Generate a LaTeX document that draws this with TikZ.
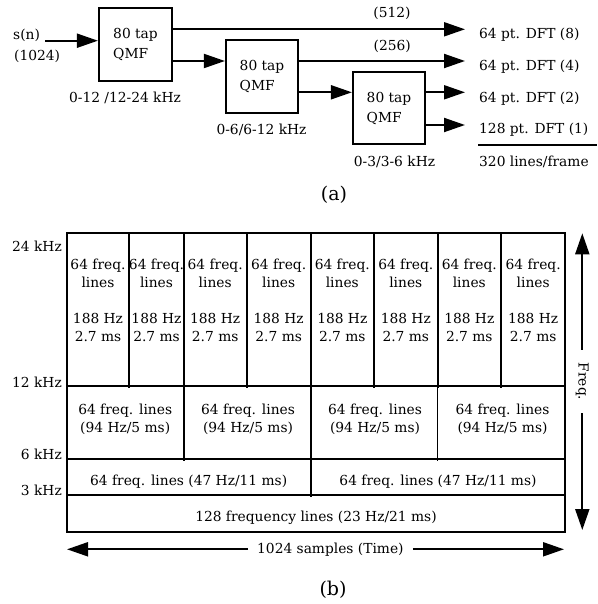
\documentclass[tikz,border=0pt]{standalone}
\usepackage{fontspec}
\setmainfont{DejaVu Serif}
\usetikzlibrary{positioning, arrows.meta}

\begin{document}
\begin{tikzpicture}[
  x=1pt, y=-1pt,
  font=\fontsize{13.8}{18}\selectfont,
  every node/.style={align=center},
  qmf/.style={
    rectangle, draw=black, line width=2.2pt,
    minimum width=72pt, minimum height=72pt, inner sep=0pt, align=left
  },
  arr/.style={-{Triangle[length=21pt,width=14pt]}, line width=2pt},
  dft/.style={anchor=west, inner xsep=14pt, inner ysep=0pt},
  tile/.style={line width=1.8pt},
  khz/.style={anchor=east, inner sep=0pt},
  cell/.style={inner sep=0pt},
  caption/.style={font=\fontsize{19}{22}\selectfont}
]
\useasboundingbox (0,0) rectangle (597,604);

% ================ (a) QMF tree ================
\node[qmf, minimum width=73pt, minimum height=73pt] (q1) at (135.5,44.5) {80 tap\\[2pt]QMF};
\node[qmf, minimum height=73pt] (q2) at (262,76.5) {80 tap\\[2pt]QMF};
\node[qmf] (q3) at (389,108) {80 tap\\[2pt]QMF};

\node[anchor=west, inner sep=0pt] (sn) at (13,35) {s(n)};
\node[anchor=west, inner sep=0pt] (snlen) at (14,56) {(1024)};

% outputs on the right
\node[dft] (dft8) at (465,35) {64 pt. DFT (8)};
\node[dft] (dft4) at (465,66.7) {64 pt. DFT (4)};
\node[dft] (dft2) at (465,98.3) {64 pt. DFT (2)};
\node[dft] (dft1) at (465,130) {128 pt. DFT (1)};
\draw[tile] (478,145) -- (597,145);
\node[anchor=west, inner sep=0pt] (total) at (479,162.3) {320 lines/frame};

% ports of the filters
\coordinate (q1in) at ([yshift=3.8pt]q1.west);
\coordinate (q1hi) at ([yshift=15.2pt]q1.east);
\coordinate (q1lo) at ([yshift=-16.5pt]q1.east);
\coordinate (q2in) at ([yshift=15.5pt]q2.west);
\coordinate (q2hi) at ([yshift=15.5pt]q2.east);
\coordinate (q2lo) at ([yshift=-15.8pt]q2.east);
\coordinate (q3in) at ([yshift=15.7pt]q3.west);
\coordinate (q3hi) at ([yshift=15.7pt]q3.east);
\coordinate (q3lo) at ([yshift=-17pt]q3.east);

\draw[arr] (q1in -| sn.east) ++(5,0) -- (q1in);
\draw[arr] (q1hi) -- (q1hi -| dft8.west)
  node[pos=0.75, yshift=16pt] (n512) {(512)};
\draw[arr] (q1lo) -- (q2in);
\draw[arr] (q2hi) -- (q2hi -| dft4.west)
  node[pos=0.561, yshift=14.3pt] (n256) {(256)};
\draw[arr] (q2lo) -- (q3in);
\draw[arr] (q3hi) -- (q3hi -| dft2.west);
\draw[arr] (q3lo) -- (q3lo -| dft1.west);

\node (band1) at (125,98.3) {0-12 /12-24 kHz};
\node (band2) at (261.5,130) {0-6/6-12 kHz};
\node (band3) at (394.5,162) {0-3/3-6 kHz};

\node[caption] (capa) at (334,195) {(a)};

% ================ (b) time-frequency tiling ================
\draw[tile] (66.7,233.3) rectangle (565.3,531.7);
\draw[tile] (66.7,386.3) -- (565.3,386.3);
\draw[tile] (66.7,459) -- (565.3,459);
\draw[tile] (66.7,495) -- (565.3,495);
\foreach \x in {129.3,183.7,246.7,310.7,374,437.7,501}
  \draw[tile] (\x,233.3) -- (\x,388);
\foreach \x in {183.7,310.7,437.5}
  \draw[tile] (\x,386.3) -- (\x,461);
\draw[tile] (310.7,459) -- (310.7,497);

\foreach \cx [count=\i] in {98,156.5,215.2,278.7,342.3,405.8,469.3,533.2}
  \node[cell] (hi\i) at (\cx,300.3) {64 freq.\\lines\\[18pt]188 Hz\\2.7 ms};
\foreach \cx [count=\i] in {125.2,248,375,502.5}
  \node[cell] (mid\i) at (\cx,419) {64 freq. lines\\(94 Hz/5 ms)};
\node[cell] (lo1) at (188.7,481.5) {64 freq. lines (47 Hz/11 ms)};
\node[cell] (lo2) at (438,481.5) {64 freq. lines (47 Hz/11 ms)};
\node[cell] (base) at (316,517.5) {128 frequency lines (23 Hz/21 ms)};

% frequency marks
\node[khz] (k24) at (62,246.7) {24 kHz};
\node[khz] (k12) at (62,382.5) {12 kHz};
\node[khz] (k6) at (62,454.5) {6 kHz};
\node[khz] (k3) at (62,490) {3 kHz};

% axes
\node[rotate=-90, inner xsep=13pt, inner ysep=0pt] (freq) at (582.3,381.5) {Freq.};
\coordinate (ftop) at (582.3,233.3);
\coordinate (fbot) at (582.3,530);
\draw[arr] (freq.west) -- (ftop);
\draw[arr] (freq.east) -- (fbot);

\node[anchor=west, inner xsep=9pt, inner ysep=0pt] (time) at (248,549.3) {1024 samples (Time)};
\coordinate (tleft) at (67,549.3);
\coordinate (tright) at (564,549.3);
\draw[arr] (time.west) -- (tleft);
\draw[arr] (time.east) -- (tright);

\node[caption] (capb) at (333,590) {(b)};
\end{tikzpicture}
\end{document}
